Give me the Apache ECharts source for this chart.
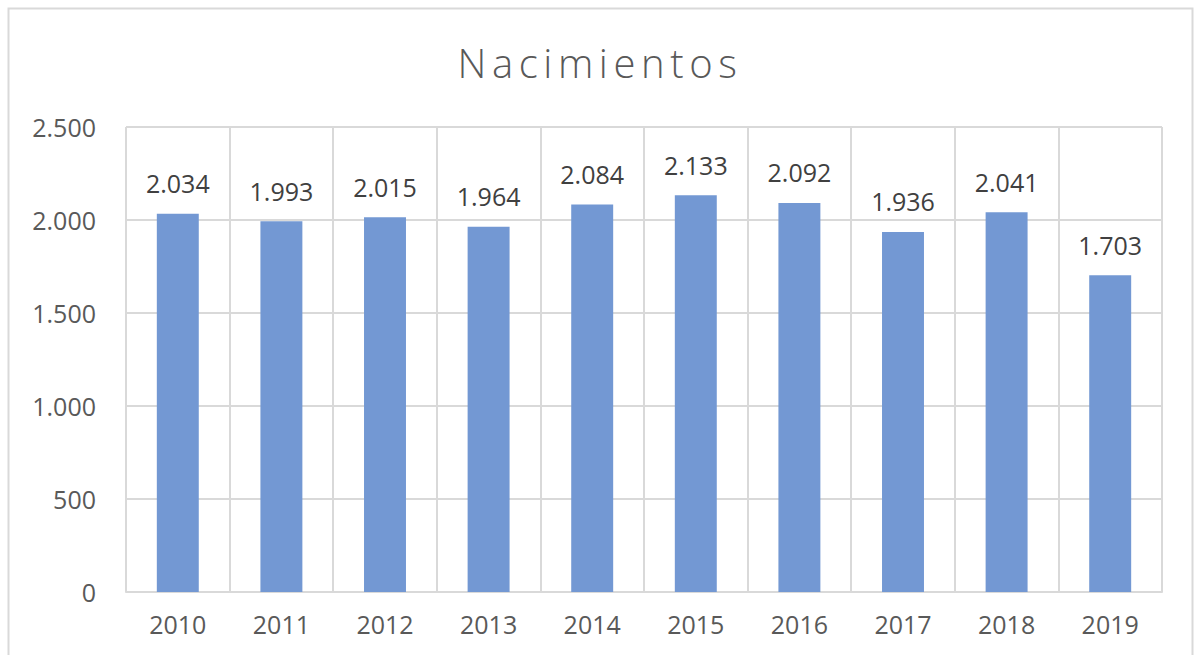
<!DOCTYPE html>
<html><head><meta charset="utf-8">
<script src="https://cdn.jsdelivr.net/npm/echarts@6/dist/echarts.min.js"></script>
<style>html,body{margin:0;padding:0;background:#fff}#c{width:1194px;height:655px}</style>
</head><body><div id="c"></div>
<script>
const categories = ['2010','2011','2012','2013','2014','2015','2016','2017','2018','2019'];
const values = [2034,1993,2015,1964,2084,2133,2092,1936,2041,1703];
const yTicks = [0,500,1000,1500,2000,2500];
const titleText = 'Nacimientos';
const fmt = v => String(v).replace(/\B(?=(\d{3})+(?!\d))/g, '.');
const chart = echarts.init(document.getElementById('c'), null, {renderer:'svg'});
chart.setOption({
  animation:false,
  backgroundColor:'#fff',
  graphic:[{type:'rect',shape:{x:8.5,y:8.5,width:1184,height:660},style:{fill:'none',stroke:'#d9d9d9',lineWidth:2},silent:true}],
  title:{text:titleText,left:'center',top:37,textStyle:{fontFamily:'Open Sans',fontSize:40,fontWeight:300,color:'#595959'}},
  grid:{left:126,right:32,top:127,bottom:63},
  xAxis:{type:'category',data:categories,
    axisLine:{lineStyle:{color:'#d9d9d9',width:2}},axisTick:{show:false},
    splitLine:{show:true,lineStyle:{color:'#d9d9d9',width:2}},
    axisLabel:{fontFamily:'Open Sans',fontSize:25,color:'#595959',margin:19}},
  yAxis:{type:'value',min:yTicks[0],max:yTicks[yTicks.length-1],interval:500,
    axisLine:{show:false},axisTick:{show:false},
    splitLine:{lineStyle:{color:'#d9d9d9',width:2}},
    axisLabel:{fontFamily:'Open Sans',fontSize:25,color:'#595959',margin:30,formatter:fmt}},
  series:[{type:'bar',data:values,barWidth:'40.5%',
    itemStyle:{color:'#7398d3'},
    label:{show:true,position:'top',distance:18,fontFamily:'Open Sans',fontSize:25,color:'#404040',formatter:p=>fmt(p.value)}}]
});
document.querySelectorAll('#c svg text').forEach(t=>{
  if(t.textContent===titleText){t.style.letterSpacing='5.6px';t.setAttribute('x',String(parseFloat(t.getAttribute('x')||0)+3));}
});
</script></body></html>
